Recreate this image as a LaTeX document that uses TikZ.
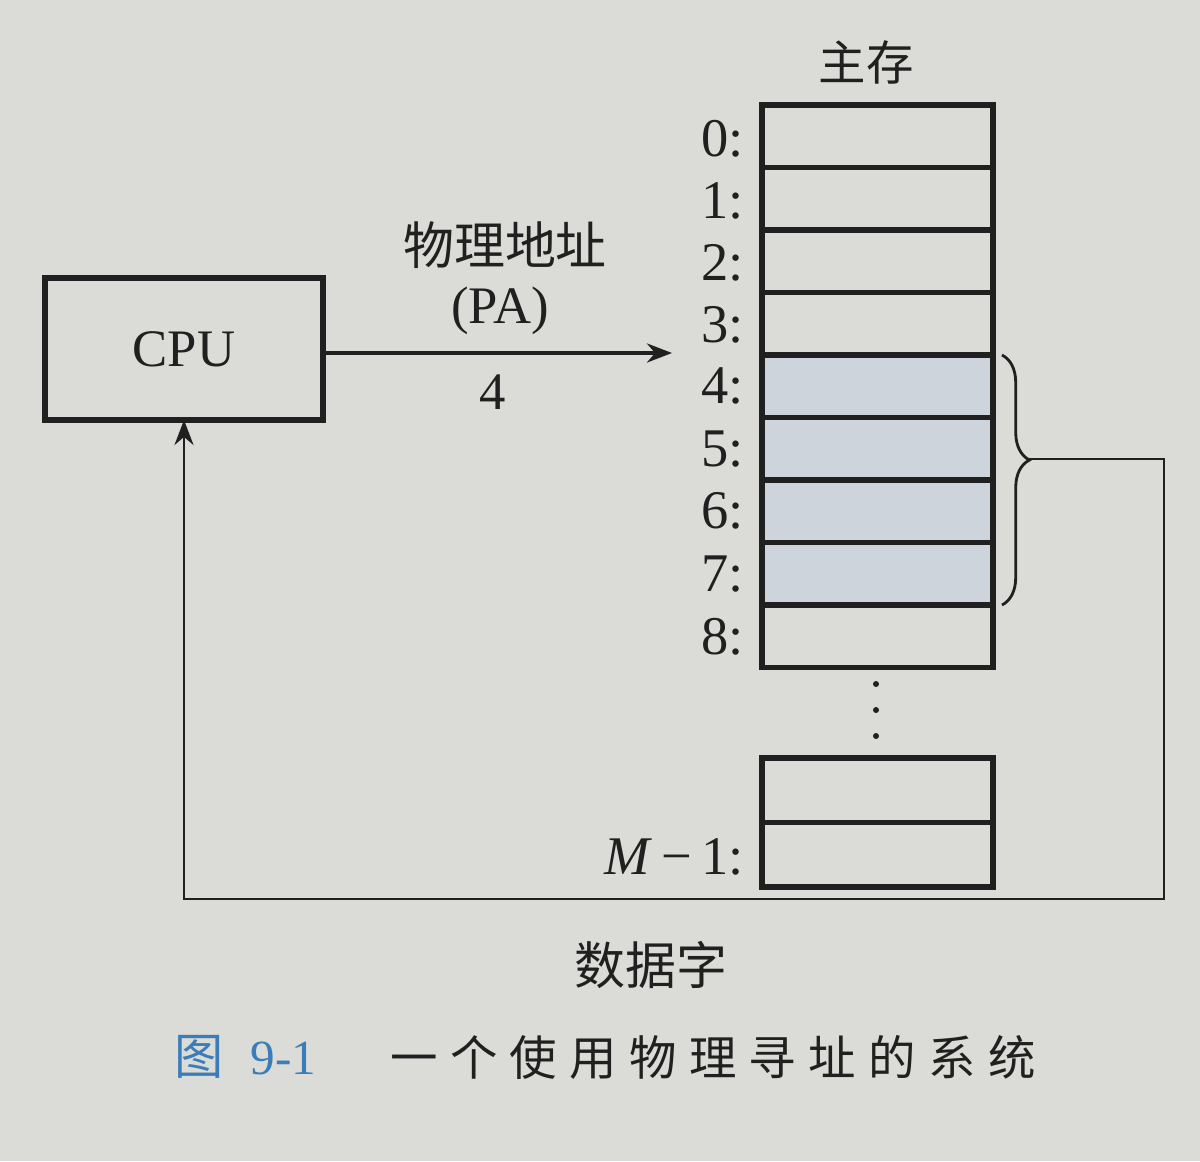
\documentclass[tikz,border=0pt]{standalone}
\usepackage{fontspec}
\setmainfont{Liberation Serif}
\newfontfamily\cjk{Noto Sans CJK SC}
\newfontfamily\cjkwide[LetterSpace=26]{Noto Sans CJK SC}
\usetikzlibrary{arrows.meta,decorations.pathreplacing}
\definecolor{paper}{RGB}{219,219,215}
\definecolor{shade}{RGB}{205,212,220}
\definecolor{ink}{RGB}{32,32,32}
\definecolor{capblue}{RGB}{58,125,185}
\begin{document}
\begin{tikzpicture}[x=0.02cm,y=-0.02cm,
  cell/.style={draw=ink, line width=3.3pt, minimum width=4.62cm, minimum height=1.25cm, inner sep=0pt, outer sep=0pt},
  lowcell/.style={cell, minimum height=1.29cm},
  shaded/.style={cell, fill=shade},
  addr/.style={anchor=east, inner sep=0pt, text=ink, font=\fontsize{31}{33}\selectfont},
  cjklbl/.style={inner sep=0pt, text=ink, font=\cjk\fontsize{29}{31}\selectfont},
  serlbl/.style={inner sep=0pt, text=ink, font=\fontsize{30}{32}\selectfont},
  cpubox/.style={draw=ink, line width=2.9pt, minimum width=5.56cm, minimum height=2.84cm, inner sep=0pt, outer sep=0pt, font=\fontsize{30}{32}\selectfont, text=ink},
  thinln/.style={draw=ink, line width=1.6pt},
  pathln/.style={draw=ink, line width=2.2pt},
  tip/.style={-{Stealth[length=0.5cm,width=0.38cm]}}
]
\useasboundingbox[fill=paper] (0,0) rectangle (1200,1161);

% title
\node[cjklbl, font=\cjk\fontsize{27}{29}\selectfont] (title) at (866,62) {主存};

% memory cells
\node[cell]   (m0) at (877.5,136.25) {};
\node[cell]   (m1) at (877.5,198.75) {};
\node[cell]   (m2) at (877.5,261.25) {};
\node[cell]   (m3) at (877.5,323.75) {};
\node[shaded] (m4) at (877.5,386.25) {};
\node[shaded] (m5) at (877.5,448.75) {};
\node[shaded] (m6) at (877.5,511.25) {};
\node[shaded] (m7) at (877.5,573.75) {};
\node[cell]   (m8) at (877.5,636.25) {};
\node[lowcell] (mx) at (877.5,790.25) {};
\node[lowcell] (mm) at (877.5,854.75) {};

% addresses
\node[addr] (a0) at (744,139) {0:};
\node[addr] (a1) at (744,201) {1:};
\node[addr] (a2) at (744,263) {2:};
\node[addr] (a3) at (744,325) {3:};
\node[addr] (a4) at (744,386) {4:};
\node[addr] (a5) at (744,449) {5:};
\node[addr] (a6) at (744,511) {6:};
\node[addr] (a7) at (744,574) {7:};
\node[addr] (a8) at (744,637) {8:};
\node[addr] (am) at (744,857) {\textit{M}\,−\,1:};

% ellipsis dots
\fill[ink] (876,684) circle (3);
\fill[ink] (876,710) circle (3);
\fill[ink] (876,736) circle (3);

% CPU
\node[cpubox] (cpu) at (184,349) {CPU};
\coordinate (pa) at (672,353);
\draw[pathln, tip] (cpu.east |- pa) -- (pa);
\node[cjklbl] (phys) at (505,245) {物理地址};
\node[serlbl] (pal) at (500,311) {(PA)};
\node[serlbl] (four) at (493,392) {4};

% brace
\draw[thinln, decorate, decoration={brace, amplitude=0.55cm, aspect=0.42}]
  ([xshift=0.18cm]m4.north east) -- ([xshift=0.18cm]m7.south east);
\coordinate (bt) at (1029,459);

% data word return path
\draw[thinln, tip] (bt) -- (1164,459) -- (1164,899) -| (cpu.south);
\node[cjklbl] (dw) at (651,965) {数据字};

% caption
\node[inner sep=0pt, text=capblue, font=\fontsize{28}{30}\selectfont, anchor=west] (figno) at (174,1057) {{\cjk 图}\hspace{0.55em}9-1};
\node[inner sep=0pt, text=ink, font=\cjkwide\fontsize{27}{29}\selectfont, anchor=west] (cap) at (390,1057) {一个使用物理寻址的系统};
\end{tikzpicture}
\end{document}
